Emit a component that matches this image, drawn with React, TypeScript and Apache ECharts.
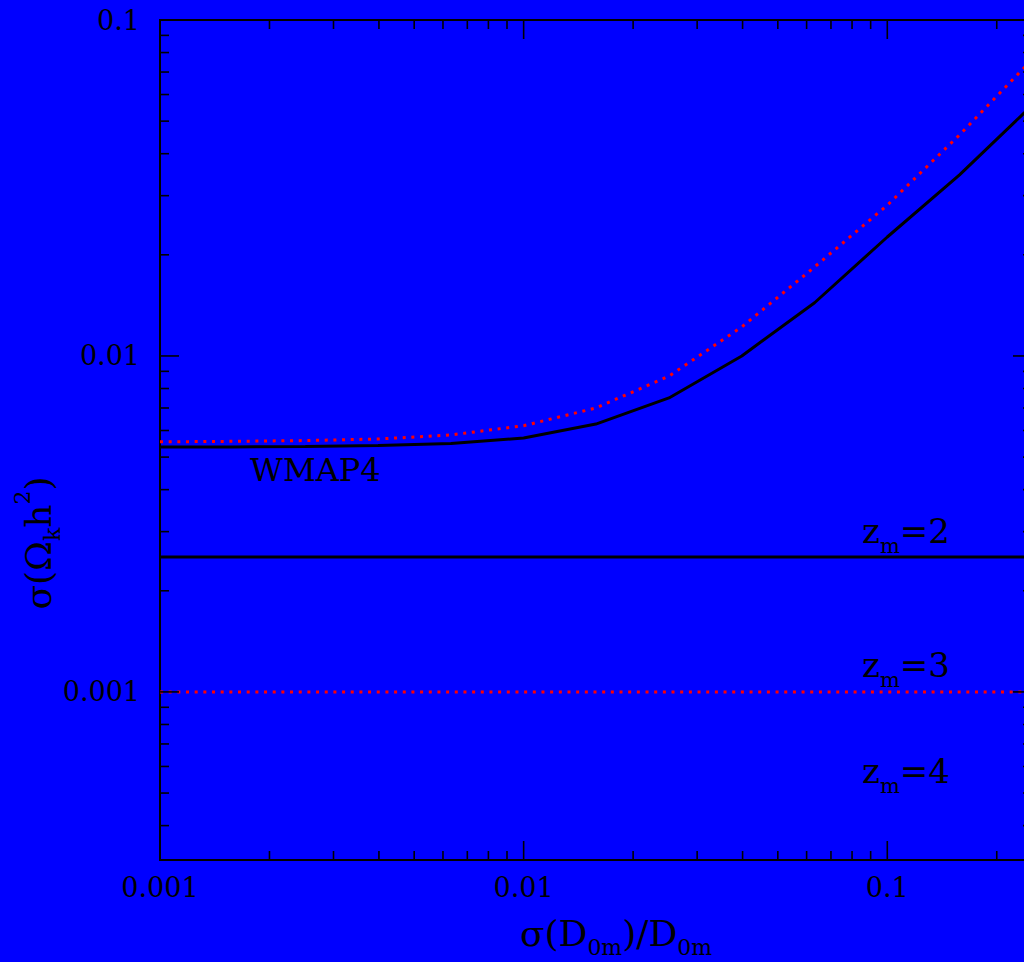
import React, { useEffect, useRef } from 'react';
import * as echarts from 'echarts';

// sigma(D_0m)/D_0m sample points
const xValues = [0.001, 0.00158, 0.00251, 0.00398, 0.00631, 0.01, 0.0158, 0.0251, 0.0398, 0.0631, 0.1, 0.158, 0.251];
// WMAP4 curves (solid black, dotted red)
const wmap4Solid = [0.00536, 0.00536, 0.00538, 0.00541, 0.00549, 0.0057, 0.00627, 0.0075, 0.01, 0.0144, 0.0226, 0.0346, 0.0559];
const wmap4Dotted = [0.00555, 0.00557, 0.0056, 0.00566, 0.00582, 0.0062, 0.007, 0.00871, 0.0122, 0.0184, 0.0281, 0.0455, 0.0766];
// horizontal levels
const zm2Level = 0.00252;
const zm3Level = 0.001;

const xRange = [0.001, 0.25];
const yRange = [0.000316, 0.1];

const majorTickValues = [0.001, 0.01, 0.1];
const xMinorTicks = [0.002, 0.003, 0.004, 0.005, 0.006, 0.007, 0.008, 0.009, 0.02, 0.03, 0.04, 0.05, 0.06, 0.07, 0.08, 0.09, 0.2];
const yMinorTicks = [0.0004, 0.0005, 0.0006, 0.0007, 0.0008, 0.0009, 0.002, 0.003, 0.004, 0.005, 0.006, 0.007, 0.008, 0.009, 0.02, 0.03, 0.04, 0.05, 0.06, 0.07, 0.08, 0.09];
const tickLabels = ['0.001', '0.01', '0.1'];

const FONT = 'DejaVu Serif';
const BLUE = '#0000ff';

function labelFor(v: number): string {
  for (let i = 0; i < majorTickValues.length; i++) {
    if (Math.abs(Math.log10(v) - Math.log10(majorTickValues[i])) < 1e-6) return tickLabels[i];
  }
  return '';
}

const richBase = {
  a: { fontSize: 34, fontFamily: FONT, fill: '#000', color: '#000' },
  sub: { fontSize: 21, fontFamily: FONT, fill: '#000', color: '#000', padding: [29, 0, 0, 0] },
  sup: { fontSize: 21, fontFamily: FONT, fill: '#000', color: '#000', padding: [0, 0, 31, 0] },
};
const richTitle = {
  a: { fontSize: 36, fontFamily: FONT, fill: '#000', color: '#000' },
  sub: { fontSize: 22, fontFamily: FONT, fill: '#000', color: '#000', padding: [29, 0, 0, 0] },
  sup: { fontSize: 22, fontFamily: FONT, fill: '#000', color: '#000', padding: [0, 0, 31, 0] },
};

export default function App() {
  const ref = useRef<HTMLDivElement>(null);
  useEffect(() => {
    document.body.style.margin = '0';
    document.body.style.overflow = 'hidden';
    document.body.style.background = BLUE;
    const chart = echarts.init(ref.current!, null, { renderer: 'svg' });
    const tickStyle = { stroke: '#000', lineWidth: 1.6 };
    const xTickData = [
      ...majorTickValues.map((v) => [v, yRange[0], 1]),
      ...xMinorTicks.map((v) => [v, yRange[0], 0]),
    ];
    const yTickData = [
      ...majorTickValues.map((v) => [xRange[0], v, 1]),
      ...yMinorTicks.map((v) => [xRange[0], v, 0]),
    ];
    chart.setOption({
      animation: false,
      backgroundColor: BLUE,
      grid: {
        left: 160,
        top: 20,
        bottom: 102,
        right: 8,
        show: true,
        borderColor: '#000',
        borderWidth: 2,
        backgroundColor: 'transparent',
      },
      xAxis: {
        type: 'log',
        logBase: 10,
        min: xRange[0],
        max: xRange[1],
        axisLine: { show: false },
        axisTick: { show: false },
        splitLine: { show: false },
        minorTick: { show: false },
        axisLabel: {
          formatter: (v: number) => labelFor(v),
          fontFamily: FONT,
          fontSize: 27,
          color: '#000',
          margin: 14,
        },
      },
      yAxis: {
        type: 'log',
        logBase: 10,
        min: yRange[0],
        max: yRange[1],
        axisLine: { show: false },
        axisTick: { show: false },
        splitLine: { show: false },
        minorTick: { show: false },
        axisLabel: {
          formatter: (v: number) => labelFor(v),
          fontFamily: FONT,
          fontSize: 27,
          color: '#000',
          margin: 20,
        },
      },
      series: [
        {
          type: 'line',
          data: xValues.map((x, i) => [x, wmap4Solid[i]]),
          showSymbol: false,
          symbol: 'none',
          lineStyle: { color: '#000', width: 3 },
          z: 3,
        },
        {
          type: 'line',
          data: xValues.map((x, i) => [x, wmap4Dotted[i]]),
          showSymbol: false,
          symbol: 'none',
          lineStyle: { color: '#ff0000', width: 3, type: [3, 5.67], cap: 'butt' },
          z: 4,
        },
        {
          type: 'line',
          data: [[xRange[0], zm2Level], [xRange[1], zm2Level]],
          showSymbol: false,
          symbol: 'none',
          lineStyle: { color: '#000', width: 3 },
          z: 3,
        },
        {
          type: 'line',
          data: [[xRange[0], zm3Level], [xRange[1], zm3Level]],
          showSymbol: false,
          symbol: 'none',
          lineStyle: { color: '#ff0000', width: 3, type: [3, 5.67], cap: 'butt' },
          z: 4,
        },
        {
          type: 'custom',
          data: xTickData,
          clip: false,
          silent: true,
          z: 5,
          renderItem: (params: any, api: any) => {
            const v = api.value(0);
            const len = api.value(2) ? 19 : 9;
            const pb = api.coord([v, yRange[0]]);
            const pt = api.coord([v, yRange[1]]);
            return {
              type: 'group',
              children: [
                { type: 'line', shape: { x1: pb[0], y1: pb[1], x2: pb[0], y2: pb[1] - len }, style: tickStyle },
                { type: 'line', shape: { x1: pt[0], y1: pt[1], x2: pt[0], y2: pt[1] + len }, style: tickStyle },
              ],
            };
          },
        },
        {
          type: 'custom',
          data: yTickData,
          clip: false,
          silent: true,
          z: 5,
          renderItem: (params: any, api: any) => {
            const v = api.value(1);
            const len = api.value(2) ? 19 : 9;
            const pl = api.coord([xRange[0], v]);
            const pr = api.coord([xRange[1], v]);
            return {
              type: 'group',
              children: [
                { type: 'line', shape: { x1: pl[0], y1: pl[1], x2: pl[0] + len, y2: pl[1] }, style: tickStyle },
                { type: 'line', shape: { x1: pr[0], y1: pr[1], x2: pr[0] - len, y2: pr[1] }, style: tickStyle },
              ],
            };
          },
        },
      ],
      graphic: [
        {
          type: 'text',
          x: 250,
          y: 470,
          style: { text: 'WMAP4', fontSize: 32, fontFamily: FONT, fill: '#000', align: 'left', verticalAlign: 'middle' },
        },
        {
          type: 'text',
          x: 862,
          y: 531,
          style: { text: '{a|z}{sub|m}{a|=2}', rich: richBase, fill: '#000', align: 'left', verticalAlign: 'middle' },
        },
        {
          type: 'text',
          x: 862,
          y: 665,
          style: { text: '{a|z}{sub|m}{a|=3}', rich: richBase, fill: '#000', align: 'left', verticalAlign: 'middle' },
        },
        {
          type: 'text',
          x: 862,
          y: 771,
          style: { text: '{a|z}{sub|m}{a|=4}', rich: richBase, fill: '#000', align: 'left', verticalAlign: 'middle' },
        },
        {
          type: 'text',
          x: 616,
          y: 933,
          style: { text: '{a|σ(D}{sub|0m}{a|)/D}{sub|0m}', rich: richTitle, fill: '#000', align: 'center', verticalAlign: 'middle' },
        },
        {
          type: 'text',
          x: 38,
          y: 543,
          rotation: Math.PI / 2,
          style: { text: '{a|σ(Ω}{sub|k}{a|h}{sup|2}{a|)}', rich: richTitle, fill: '#000', align: 'center', verticalAlign: 'middle' },
        },
      ],
    });
    return () => chart.dispose();
  }, []);
  return <div ref={ref} style={{ width: 1040, height: 962 }} />;
}
